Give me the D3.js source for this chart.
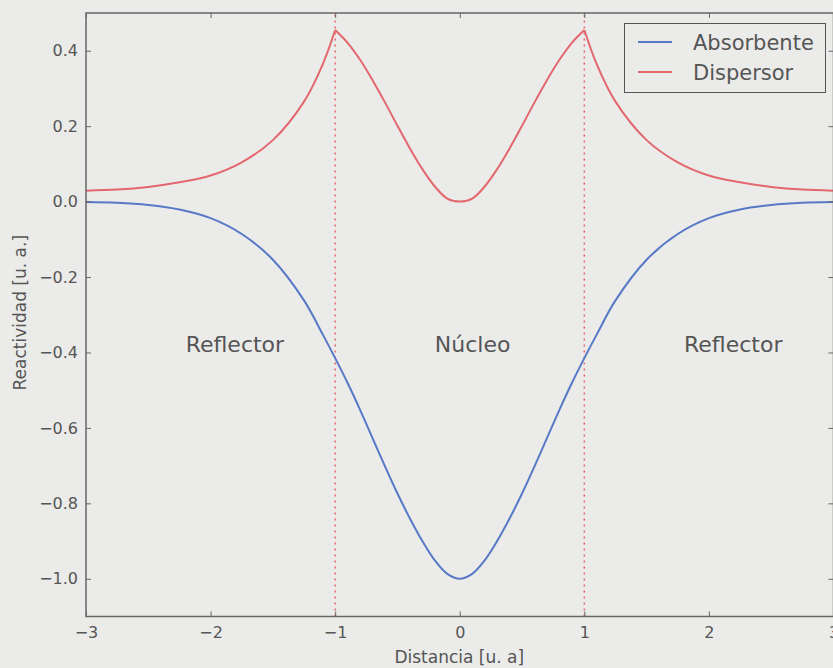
<!DOCTYPE html>
<html><head><meta charset="utf-8">
<script src="https://cdn.jsdelivr.net/npm/d3@7"></script>
<style>
body{margin:0;background:#ebebea;}
svg{display:block;font-family:"DejaVu Sans",sans-serif;}
</style>
</head><body>
<svg id="c" width="833" height="668"></svg>
<script>
// ---- data ----
const distancia = [-3,-2.75,-2.5,-2.25,-2,-1.75,-1.5,-1.25,-1.1,-1,-0.9,-0.8,-0.7,-0.6,-0.5,-0.4,-0.3,-0.2,-0.1,0,0.1,0.2,0.3,0.4,0.5,0.6,0.7,0.8,0.9,1,1.1,1.25,1.5,1.75,2,2.25,2.5,2.75,3];
const absorbente = [-0.001,-0.003,-0.009,-0.021,-0.044,-0.086,-0.154,-0.262,-0.352,-0.415,-0.481,-0.552,-0.627,-0.702,-0.774,-0.840,-0.900,-0.951,-0.987,-1.000,-0.987,-0.951,-0.900,-0.840,-0.774,-0.702,-0.627,-0.552,-0.481,-0.415,-0.352,-0.262,-0.154,-0.086,-0.044,-0.021,-0.009,-0.003,-0.001];
const dispersor = [0.029,0.032,0.039,0.051,0.069,0.104,0.163,0.265,0.364,0.455,0.421,0.376,0.322,0.263,0.201,0.141,0.086,0.040,0.008,0.000,0.008,0.040,0.086,0.141,0.201,0.263,0.322,0.376,0.421,0.455,0.364,0.265,0.163,0.104,0.069,0.051,0.039,0.032,0.029];
const interfaces = [-1, 1];
const regionNames = ["Reflector","Núcleo","Reflector"];
const regionX = [-2.2,-0.2,1.8];
const regionY = -0.4;
const seriesNames = ["Absorbente","Dispersor"];
const xTicks = [-3,-2,-1,0,1,2,3];
const yTicks = [-1.0,-0.8,-0.6,-0.4,-0.2,0.0,0.2,0.4];
const xLabel = "Distancia [u. a]";
const yLabel = "Reactividad [u. a.]";

// ---- layout ----
const colors = {Absorbente:"#5779c6", Dispersor:"#e3686e"};
const L = 86, R = 833.5, T = 13, B = 616.5;
const svg = d3.select("#c");
const x = d3.scaleLinear().domain([-3,3]).range([L,R]);
const y = d3.scaleLinear().domain([-1.1,0.5]).range([B,T]);

svg.append("rect").attr("x",L).attr("y",T).attr("width",R-L).attr("height",B-T).attr("fill","#ebebea");

// interface dotted lines
svg.selectAll("line.iface").data(interfaces).enter().append("line")
  .attr("x1",d=>x(d)).attr("x2",d=>x(d)).attr("y1",B).attr("y2",T)
  .attr("stroke",colors.Dispersor).attr("stroke-width",1.5).attr("stroke-dasharray","2,4");

const pts = distancia.map((d,i)=>({x:d, a:absorbente[i], s:dispersor[i]}));
const curve = d3.curveCatmullRom.alpha(0.5);
const lineA = d3.line().x(d=>x(d.x)).y(d=>y(d.a)).curve(curve);
const lineS = d3.line().x(d=>x(d.x)).y(d=>y(d.s)).curve(curve);

svg.append("path").attr("d",lineA(pts)).attr("fill","none").attr("stroke",colors.Absorbente).attr("stroke-width",2);
// dispersor drawn per region so the peaks at the interfaces stay sharp
const segs = [pts.filter(p=>p.x<=-1), pts.filter(p=>p.x>=-1 && p.x<=1), pts.filter(p=>p.x>=1)];
segs.forEach(sg=>{
  svg.append("path").attr("d",lineS(sg)).attr("fill","none").attr("stroke",colors.Dispersor).attr("stroke-width",2).attr("stroke-linejoin","round");
});

// axes (classic style: ticks inside on all four sides)
const tickCol = "#555";
const gx = svg.append("g").attr("transform",`translate(0,${B})`)
  .call(d3.axisBottom(x).tickValues(xTicks).tickFormat(d3.format("d")).tickSizeInner(-5).tickSizeOuter(0).tickPadding(10));
const gxt = svg.append("g").attr("transform",`translate(0,${T})`)
  .call(d3.axisTop(x).tickValues(xTicks).tickFormat("").tickSizeInner(-5).tickSizeOuter(0));
const gy = svg.append("g").attr("transform",`translate(${L},0)`)
  .call(d3.axisLeft(y).tickValues(yTicks).tickFormat(d3.format(".1f")).tickSizeInner(-5).tickSizeOuter(0).tickPadding(8));
const gyr = svg.append("g").attr("transform",`translate(${R},0)`)
  .call(d3.axisRight(y).tickValues(yTicks).tickFormat("").tickSizeInner(-5).tickSizeOuter(0));
[gx,gxt,gy,gyr].forEach(g=>{
  g.select(".domain").remove();
  g.selectAll(".tick line").attr("stroke","#666").attr("stroke-width",1);
  g.selectAll(".tick text").attr("fill",tickCol).attr("font-size",16).attr("font-family","DejaVu Sans");
});

// frame
svg.append("rect").attr("x",L).attr("y",T).attr("width",R-L).attr("height",B-T)
  .attr("fill","none").attr("stroke","#666").attr("stroke-width",1.5);

// axis labels
svg.append("text").attr("x",(L+R)/2 - 0.5).attr("y",663).attr("text-anchor","middle")
  .attr("font-size",17).attr("fill",tickCol).text(xLabel);
svg.append("text").attr("transform",`translate(26,${(T+B)/2 - 2}) rotate(-90)`).attr("text-anchor","middle")
  .attr("font-size",17).attr("fill",tickCol).text(yLabel);

// region annotations
svg.selectAll("text.region").data(regionNames).enter().append("text")
  .attr("x",(d,i)=>x(regionX[i])).attr("y",y(regionY))
  .attr("font-size",22).attr("fill","#555").text(d=>d);

// legend
const lg = svg.append("g");
lg.append("rect").attr("x",624.5).attr("y",23.5).attr("width",201).attr("height",69)
  .attr("fill","#ebebea").attr("stroke","#555").attr("stroke-width",1);
seriesNames.forEach((n,i)=>{
  const yy = 42 + i*30;
  lg.append("line").attr("x1",638).attr("x2",672).attr("y1",yy).attr("y2",yy).attr("stroke",colors[n]).attr("stroke-width",2);
  lg.append("text").attr("x",693).attr("y",yy+7.5).attr("font-size",21).attr("fill","#555").text(n);
});
</script>
</body></html>
